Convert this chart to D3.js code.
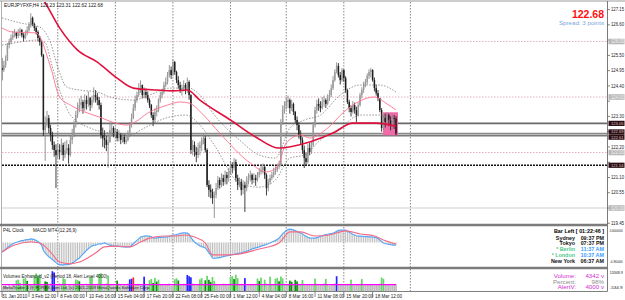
<!DOCTYPE html>
<html><head><meta charset="utf-8">
<script src="https://cdn.jsdelivr.net/npm/d3@7"></script>
<style>body{margin:0;background:#fff;overflow:hidden}svg{display:block;font-family:"Liberation Sans",Arial,sans-serif}</style>
</head><body><svg id="c" width="625" height="300"></svg>
<script>
// ---------- DATA ----------
const headerText = "EURJPYFXF,H4  123.23 123.31 122.62 122.68";
const lastPrice = "122.68";
const spreadText = "Spread: 3 points";
const firstOpen = 125.05;
const closes = [
124.97,125.15,125.33,125.87,125.98,126.13,126.23,126.31,126.20,126.34,
126.41,126.23,126.13,126.31,126.41,126.59,126.85,126.63,126.49,126.34,
126.13,125.98,125.51,122.81,122.99,123.24,122.88,122.63,122.27,122.09,
121.91,122.09,122.02,122.27,121.91,122.09,122.16,121.91,122.45,122.63,
122.99,123.35,123.60,123.71,123.82,123.60,123.89,123.75,123.96,123.71,
123.89,124.07,124.00,123.89,123.71,122.63,122.52,122.45,122.27,122.38,
122.81,122.88,122.63,122.74,122.52,122.63,122.45,122.56,122.38,122.45,
122.63,122.99,123.24,123.60,123.89,124.07,124.25,124.43,124.07,124.18,
124.07,123.89,123.71,123.35,123.17,123.46,123.53,123.89,124.07,124.18,
124.43,124.54,124.79,124.97,124.79,125.26,124.90,124.61,124.43,124.25,
124.32,124.43,124.25,124.54,124.07,122.09,122.27,122.02,121.91,122.16,
122.27,122.45,122.52,122.09,120.83,120.65,120.58,120.36,120.47,120.72,
121.01,120.83,121.08,120.94,121.19,121.08,121.30,121.55,121.44,121.66,
121.08,120.83,120.94,120.65,120.83,120.72,121.01,121.08,121.19,121.01,
121.08,121.01,121.19,121.30,121.37,121.48,121.19,120.72,120.94,121.08,
121.19,121.30,121.37,121.48,121.55,123.10,123.53,123.68,123.82,123.89,
123.60,123.75,123.46,123.17,122.99,122.63,122.45,122.09,121.80,121.66,
122.16,122.02,122.27,122.99,123.53,123.75,123.68,123.60,123.82,123.89,
123.75,123.96,124.07,124.32,124.61,124.90,125.12,124.79,124.61,124.97,
124.68,124.25,123.82,123.60,123.46,123.71,123.53,123.35,123.71,124.07,
124.25,124.43,124.54,124.76,124.90,124.97,124.61,124.32,124.14,123.96,
123.53,122.88,123.24,123.10,123.35,123.17,122.99,123.24,123.23,122.68];
const highs = [
125.40,125.30,125.50,125.95,126.10,126.25,126.38,126.45,126.35,126.45,
126.50,126.45,126.30,126.40,126.55,126.70,127.02,126.90,126.68,126.55,
126.40,126.20,126.05,125.55,123.30,123.50,123.35,123.00,122.75,122.40,
122.30,122.35,122.30,122.50,122.35,122.40,122.45,122.30,122.60,122.85,
123.15,123.50,123.80,123.95,124.05,123.90,124.10,124.05,124.20,124.00,
124.05,124.35,124.25,124.15,124.00,123.80,122.90,122.80,122.60,122.65,
123.05,123.10,122.95,122.90,122.85,122.80,122.70,122.70,122.65,122.60,
122.80,123.10,123.40,123.75,124.05,124.20,124.50,124.60,124.45,124.35,
124.30,124.20,123.95,123.75,123.45,123.60,123.70,123.95,124.20,124.30,
124.55,124.70,124.90,125.15,125.10,125.35,125.30,124.95,124.75,124.55,
124.45,124.60,124.50,124.70,124.60,124.10,122.45,122.40,122.20,122.35,
122.40,122.55,122.70,122.60,122.15,121.00,120.85,120.70,120.60,120.90,
121.15,121.10,121.25,121.20,121.35,121.30,121.45,121.70,121.65,121.80,
121.75,121.20,121.10,121.05,121.00,120.95,121.15,121.25,121.35,121.25,
121.25,121.20,121.30,121.45,121.55,121.60,121.55,121.25,121.05,121.20,
121.30,121.45,121.50,121.60,121.70,123.20,123.70,123.85,124.00,124.05,
123.95,123.90,123.80,123.50,123.30,123.10,122.80,122.55,122.25,122.00,
122.30,122.35,122.40,123.10,123.65,123.90,123.95,123.85,124.00,124.05,
123.95,124.10,124.25,124.45,124.75,125.00,125.25,125.22,124.90,125.05,
125.00,124.75,124.30,123.90,123.70,123.85,123.80,123.65,123.80,124.15,
124.35,124.55,124.65,124.85,125.00,125.05,125.00,124.70,124.45,124.25,
123.95,123.60,123.35,123.40,123.45,123.40,123.30,123.40,123.35,123.31];
const lows = [
124.60,124.90,125.05,125.30,125.75,125.90,126.05,126.15,126.10,126.12,
126.20,126.15,126.00,126.08,126.22,126.35,126.50,126.55,126.38,126.25,
126.00,125.85,125.45,122.60,121.70,122.90,122.70,122.40,122.10,121.85,
120.72,121.80,121.75,121.90,121.70,121.80,121.95,121.60,121.85,122.30,
122.55,122.90,123.25,123.45,123.55,123.40,123.50,123.55,123.65,123.50,
123.60,123.80,123.80,123.70,123.55,122.50,122.20,122.15,122.05,121.45,
122.35,122.65,122.55,122.50,122.40,122.40,122.30,122.35,122.30,122.30,
122.40,122.55,122.90,123.20,123.50,123.80,124.00,124.15,123.95,123.95,
123.95,123.80,123.60,123.25,122.95,123.05,123.30,123.45,123.80,123.95,
124.10,124.35,124.45,124.70,124.65,124.75,124.80,124.50,124.30,124.15,
124.05,124.20,124.10,124.15,123.90,121.95,121.90,121.85,121.65,121.80,
121.90,122.05,122.30,122.00,120.75,120.40,120.35,120.15,119.64,120.35,
120.65,120.70,120.75,120.80,120.85,120.85,120.95,121.20,121.25,121.35,
120.95,120.65,120.75,120.45,120.50,119.86,120.60,120.85,120.95,120.85,
120.90,120.80,120.95,121.10,121.20,121.25,121.05,120.45,120.60,120.85,
121.00,121.10,121.20,121.30,121.40,121.50,123.00,123.40,123.55,123.60,
123.40,123.50,123.35,123.05,122.80,122.50,122.30,121.95,121.44,121.55,
121.60,121.90,121.95,122.20,122.90,123.40,123.50,123.45,123.55,123.65,
123.60,123.70,123.85,124.00,124.25,124.55,124.85,124.70,124.45,124.55,
124.55,124.15,123.75,123.45,123.30,123.40,123.40,123.10,123.30,123.65,
123.95,124.15,124.35,124.45,124.65,124.70,124.55,124.20,124.05,123.85,
123.45,122.75,122.80,122.90,123.00,122.95,122.80,122.85,122.85,122.62];

// moving averages: [barIndex, price]
const maSlow = [[21,127.68],[23,127.50],[32,126.49],[42,125.69],[53,125.26],[64,124.68],[73,124.32],[86,124.25],[95,124.22],[103,124.25],[110,123.89],[127,123.17],[141,122.56],[154,122.16],[171,122.38],[184,122.70],[195,123.06],[208,123.06],[219,122.95]];
const maFast = [[0,126.49],[6,126.34],[19,126.31],[27,125.08],[32,124.00],[38,123.71],[46,123.46],[54,123.28],[63,123.06],[69,122.99],[74,123.10],[81,123.42],[92,123.71],[99,123.82],[104,123.78],[112,123.35],[121,122.70],[138,121.62],[147,121.30],[153,121.48],[158,122.34],[166,122.63],[171,122.52],[181,122.88],[190,123.46],[199,123.86],[207,124.00],[214,123.75],[219,123.53]];
const bandUp = [[0,126.85],[10,126.67],[21,126.52],[27,125.95],[31,125.08],[36,124.36],[43,124.25],[53,124.18],[60,124.00],[73,123.89],[82,124.07],[93,124.32],[104,124.32],[110,124.07],[118,123.35],[132,122.45],[143,121.91],[152,121.80],[160,122.88],[168,123.17],[177,123.35],[188,124.07],[199,124.43],[210,124.43],[219,124.18]];
const bandLo = [[0,125.87],[10,125.98],[19,126.05],[24,125.95],[28,125.08],[33,124.07],[38,123.35],[49,122.88],[60,122.70],[71,122.63],[79,122.88],[91,123.24],[102,123.35],[110,122.99],[118,122.27],[132,120.90],[143,120.75],[152,121.01],[160,121.80],[168,121.91],[177,122.45],[188,122.88],[199,123.35],[210,123.35],[219,122.99]];

const hLevels = [123.05, 122.69, 122.61, 121.54];
const hLevelLabels = ["123.05","122.69","122.61","121.54"];
const gridLevels = [126, 124, 122];
const gridLevelLabels = ["126.00","124.00","122.00"];
const baseLevel = 120;
const baseLevelLabel = "120.00";
const pinkBox = {from: 211.8, to: 220.1, hi: 123.45, lo: 122.62};

const priceTicks = [127.15,126.60,126.05,125.50,124.95,124.40,123.85,123.30,122.75,122.20,121.65,121.10,120.55,120.00,119.45];

const timeLabels = ["31 Jan 2010","3 Feb 12:00","8 Feb 00:00","10 Feb 16:00","15 Feb 04:00","17 Feb 20:00","22 Feb 08:00","25 Feb 00:00","1 Mar 12:00","4 Mar 04:00","8 Mar 16:00","11 Mar 08:00","15 Mar 20:00","18 Mar 12:00"];
const timeIdx = [0,15,31,47,63,79,95,111,127,143,158,174,190,206];
const gridIdx = [31,63,95,127,158,190,227];

// MACD (per bar main line / histogram) and signal [barIndex, value]
const macdMain = [
-0.37,-0.32,-0.27,-0.20,-0.15,-0.10,-0.06,-0.02,0.01,0.03,
0.05,0.07,0.08,0.10,0.11,0.12,0.14,0.13,0.11,0.08,
0.04,-0.02,-0.10,-0.30,-0.40,-0.48,-0.55,-0.60,-0.66,-0.72,
-0.78,-0.83,-0.87,-0.86,-0.88,-0.86,-0.85,-0.86,-0.83,-0.80,
-0.76,-0.70,-0.65,-0.60,-0.52,-0.45,-0.38,-0.30,-0.24,-0.18,
-0.14,-0.11,-0.10,-0.08,-0.05,-0.06,-0.04,-0.02,-0.05,-0.08,
-0.10,-0.12,-0.13,-0.14,-0.15,-0.15,-0.16,-0.17,-0.17,-0.18,
-0.17,-0.17,-0.12,-0.05,0.02,0.08,0.14,0.21,0.23,0.25,
0.26,0.25,0.25,0.22,0.18,0.17,0.18,0.19,0.20,0.21,
0.21,0.21,0.22,0.24,0.26,0.29,0.29,0.31,0.33,0.35,
0.36,0.37,0.37,0.36,0.32,0.20,0.10,0.02,-0.04,-0.09,
-0.13,-0.16,-0.18,-0.21,-0.30,-0.40,-0.48,-0.60,-0.62,-0.61,
-0.60,-0.59,-0.57,-0.55,-0.53,-0.52,-0.50,-0.48,-0.47,-0.46,
-0.44,-0.43,-0.41,-0.40,-0.38,-0.36,-0.34,-0.31,-0.28,-0.25,
-0.23,-0.21,-0.19,-0.17,-0.14,-0.12,-0.10,-0.08,-0.05,-0.02,
0.02,0.05,0.08,0.12,0.17,0.26,0.34,0.40,0.46,0.50,
0.52,0.51,0.49,0.46,0.42,0.39,0.37,0.33,0.28,0.24,
0.20,0.18,0.17,0.17,0.17,0.19,0.21,0.23,0.26,0.29,
0.31,0.32,0.33,0.34,0.36,0.39,0.43,0.47,0.48,0.48,
0.48,0.48,0.44,0.40,0.36,0.32,0.29,0.26,0.25,0.25,
0.24,0.24,0.23,0.23,0.22,0.22,0.21,0.21,0.19,0.15,
0.10,0.04,-0.02,-0.04,-0.06,-0.07,-0.08,-0.10,-0.10,-0.10];
const macdSignal = [[0,-0.37],[7,-0.10],[16,0.02],[21,-0.02],[27,-0.37],[32,-0.76],[38,-0.83],[43,-0.76],[52,-0.41],[57,-0.17],[63,-0.14],[71,-0.17],[77,0.02],[82,0.17],[91,0.25],[96,0.25],[102,0.29],[107,0.21],[113,-0.02],[117,-0.48],[127,-0.48],[143,-0.25],[154,-0.02],[160,0.41],[166,0.41],[174,0.25],[182,0.29],[191,0.45],[199,0.33],[207,0.25],[212,0.10],[217,-0.02],[219,-0.06]];
const macdLabel = "MACD MT4 (12,26,9)";
const clockLabel = "P4L Clock";

// Volumes and their colour class (0 grey, 1 light green, 2 dark green, 3 blue, 4 red)
const volumes = [
2800,3200,3500,2600,3900,3100,4200,3600,6800,7200,
5200,3300,7900,8200,6400,3800,4100,3500,9800,11200,
8600,10500,3900,4300,6100,5800,3600,4800,12600,11800,
4400,3700,4900,3800,8100,7600,3200,4500,3900,3400,
4100,7300,6900,6200,3600,4200,3300,4700,3900,8800,
9200,4300,3800,4600,10800,11300,3700,4200,4900,9900,
4000,3500,4400,3200,6600,4700,3900,3100,4300,3600,
4800,7400,7800,8600,4200,3900,4600,3800,4300,9100,
4500,3700,6900,7700,5100,8300,6000,7200,3900,4200,
3600,4400,3800,4700,3300,4000,7500,8100,6700,4100,
3900,4600,4300,10200,9400,8700,4800,4100,3700,4400,
7400,8200,4500,6800,9600,7100,5800,8900,6300,4200,
3800,4300,3600,4700,3900,4100,3500,8800,9400,7600,
10300,8100,4600,3900,4400,8200,4000,3700,4500,3800,
4200,3600,7900,6400,8500,4300,7200,4800,3900,9100,
4400,3700,7800,8300,6200,9200,8000,4600,4100,3800,
6600,5900,4300,7100,6100,4500,3900,7000,4400,3600,
4000,4500,3800,4200,7900,4600,3700,4300,3900,4800,
7700,4100,3600,4400,3800,4700,9400,4300,3900,4200,
3700,4500,4100,3800,7200,4400,3600,4200,3900,4600,
7600,4200,3700,4400,3900,4500,4100,3600,4300,3800,
4700,8600,7800,4200,3900,4400,3600,4000,4500,4342];
const volClass = [
0,0,0,0,0,0,0,0,1,1, 1,0,1,1,2,0,0,0,1,1, 2,1,0,0,2,2,0,0,3,3, 0,0,0,0,1,1,0,0,0,0,
0,1,1,2,0,0,0,0,0,1, 1,0,0,0,1,1,0,0,0,1, 0,0,0,0,2,0,0,0,0,0, 0,3,3,4,0,0,0,0,0,3,
0,0,1,1,2,1,2,1,0,0, 0,0,0,0,0,0,1,1,2,0, 0,0,0,3,3,3,0,0,0,0, 1,1,0,2,1,2,2,1,1,0,
0,0,0,0,0,0,0,1,1,2, 1,1,0,0,0,3,0,0,0,0, 0,0,1,2,1,0,1,0,0,1, 0,0,1,1,2,1,1,0,0,0,
2,2,0,2,2,0,0,1,0,0, 0,0,0,0,1,0,0,0,0,0, 1,0,0,0,0,0,3,0,0,0, 0,0,0,0,1,0,0,0,0,0,
1,0,0,0,0,0,0,0,0,0, 0,1,1,0,0,0,0,0,0,0];
const volMax = 13348.9;
const volAlert = 4000;
const volLabel = "Volumes Enhanced_v2 (Period 18, Alert Level 4000)";
const copyLabel = "MetaTrader 4 @ FOREX.com Ltd, (c) 2001-2009 MetaQuotes Software Corp.";
const clockRows = [["Sydney","09:37 PM"],["Tokyo","07:37 PM"],["* Berlin","11:37 AM"],["* London","10:37 AM"],["New York","06:37 AM"]];
const barLeft = "Bar Left [ 01:22:46 ]";
const volInfo = [["Volume:","4342 v"],["Percent:","98%"],["AlertV:","4000 v"]];
const subAxisLabels = ["0.600000","-0.90000","13348.9","-534.9"];

// ---------- DRAW ----------
const svg = d3.select("#c");
const W = 625, AX = 607.5;
const x = d3.scaleLinear().domain([0, 219]).range([2, 396]);
const yP = d3.scaleLinear().domain([120, 126]).range([208, 41.5]);
const yM = d3.scaleLinear().domain([-0.95, 0.6]).range([267, 227]);
const yV = d3.scaleLinear().domain([0, volMax]).range([291, 270]);

svg.append("rect").attr("width", W).attr("height", 300).attr("fill", "#fff");
const defs = svg.append("defs");
defs.append("clipPath").attr("id", "cp").append("rect").attr("x", 2).attr("y", 2).attr("width", AX - 2).attr("height", 222);

// vertical grid
svg.append("g").selectAll("line").data(gridIdx).join("line")
  .attr("x1", d => x(d)).attr("x2", d => x(d)).attr("y1", 2).attr("y2", 291)
  .attr("stroke", "#6a6a6a").attr("stroke-width", 0.8).attr("stroke-dasharray", "1.5,1.5");

const main = svg.append("g").attr("clip-path", "url(#cp)");
main.selectAll("line.gl").data(gridLevels).join("line").attr("class", "gl")
  .attr("x1", 2).attr("x2", AX).attr("y1", d => yP(d)).attr("y2", d => yP(d))
  .attr("stroke", "#e3a6b4").attr("stroke-width", 0.9).attr("stroke-dasharray", "1.5,1.5");
main.append("line").attr("x1", 2).attr("x2", AX).attr("y1", yP(baseLevel)).attr("y2", yP(baseLevel))
  .attr("stroke", "#cfcfcf").attr("stroke-width", 1);
const hStyle = [{c:"#6a6a6a",w:1.8,d:null},{c:"#8a8a8a",w:1.4,d:null},{c:"#7a7a7a",w:2,d:null},{c:"#111",w:1.3,d:"2,1"}];
main.selectAll("line.hl").data(hLevels).join("line").attr("class", "hl")
  .attr("x1", 2).attr("x2", AX).attr("y1", d => yP(d)).attr("y2", d => yP(d))
  .attr("stroke", (d, i) => hStyle[i].c).attr("stroke-width", (d, i) => hStyle[i].w)
  .attr("stroke-dasharray", (d, i) => hStyle[i].d);
main.append("rect").attr("x", x(pinkBox.from)).attr("width", x(pinkBox.to) - x(pinkBox.from))
  .attr("y", yP(pinkBox.hi)).attr("height", yP(pinkBox.lo) - yP(pinkBox.hi))
  .attr("fill", "#f06aa8");

// candles
const bars = closes.map((c, i) => {
  const o = i ? closes[i - 1] : firstOpen;
  return {i, o, c, h: Math.max(highs[i], o, c), l: Math.min(lows[i], o, c)};
});
main.selectAll("line.wk").data(bars).join("line").attr("class", "wk")
  .attr("x1", d => x(d.i)).attr("x2", d => x(d.i))
  .attr("y1", d => yP(d.h)).attr("y2", d => yP(d.l))
  .attr("stroke", d => d.c >= d.o ? "#8a8a8a" : "#2a2a2a").attr("stroke-width", 0.9);
main.selectAll("rect.bd").data(bars).join("rect").attr("class", "bd")
  .attr("x", d => x(d.i) - 0.75).attr("width", 1.5)
  .attr("y", d => yP(Math.max(d.o, d.c)))
  .attr("height", d => Math.max(0.8, Math.abs(yP(d.o) - yP(d.c))))
  .attr("fill", d => d.c >= d.o ? "#9a9a9a" : "#1e1e1e");

// MAs
const lineP = d3.line().x(d => x(d[0])).y(d => yP(d[1])).curve(d3.curveMonotoneX);
main.append("path").attr("d", lineP(bandUp)).attr("fill", "none").attr("stroke", "#7c7c7c").attr("stroke-width", 0.8).attr("stroke-dasharray", "1.5,1.5");
main.append("path").attr("d", lineP(bandLo)).attr("fill", "none").attr("stroke", "#7c7c7c").attr("stroke-width", 0.8).attr("stroke-dasharray", "1.5,1.5");
main.append("path").attr("d", lineP(maFast)).attr("fill", "none").attr("stroke", "#ff6f8c").attr("stroke-width", 0.9);
main.append("path").attr("d", lineP(maSlow)).attr("fill", "none").attr("stroke", "#e0103c").attr("stroke-width", 1.6);

// MACD pane
const mg = svg.append("g");
mg.selectAll("line").data(macdMain).join("line")
  .attr("x1", (d, i) => x(i)).attr("x2", (d, i) => x(i))
  .attr("y1", yM(0)).attr("y2", d => yM(d))
  .attr("stroke", "#b4b4b4").attr("stroke-width", 0.9);
mg.append("path").attr("d", d3.line().x((d, i) => x(i)).y(d => yM(d))(macdMain))
  .attr("fill", "none").attr("stroke", "#5aa8f5").attr("stroke-width", 1.2);
mg.append("path").attr("d", d3.line().x(d => x(d[0])).y(d => yM(d[1])).curve(d3.curveMonotoneX)(macdSignal))
  .attr("fill", "none").attr("stroke", "#f26a86").attr("stroke-width", 1.1);

// Volume pane
const volColors = ["#bebebe", "#66d466", "#0c8c0c", "#2525ff", "#ff2525"];
svg.append("g").selectAll("rect").data(volumes).join("rect")
  .attr("x", (d, i) => x(i) - 0.85).attr("width", 1.7)
  .attr("y", d => yV(d)).attr("height", d => yV(0) - yV(d))
  .attr("fill", (d, i) => volColors[volClass[i]]);
svg.append("line").attr("x1", x(0)).attr("x2", x(219)).attr("y1", yV(volAlert)).attr("y2", yV(volAlert))
  .attr("stroke", "#ff00ff").attr("stroke-width", 1.2);

// frames / separators
svg.append("line").attr("x1", 0).attr("x2", W).attr("y1", 1).attr("y2", 1).attr("stroke", "#9a9a9a");
svg.append("line").attr("x1", 1.5).attr("x2", 1.5).attr("y1", 1).attr("y2", 291.5).attr("stroke", "#b0b0b0");
svg.append("line").attr("x1", 0).attr("x2", AX).attr("y1", 225).attr("y2", 225).attr("stroke", "#7c7c7c").attr("stroke-width", 2.4);
svg.append("line").attr("x1", 0).attr("x2", AX).attr("y1", 268).attr("y2", 268).attr("stroke", "#7c7c7c").attr("stroke-width", 2.4);
svg.append("line").attr("x1", 0).attr("x2", AX).attr("y1", 291.5).attr("y2", 291.5).attr("stroke", "#808080").attr("stroke-width", 1);
svg.append("line").attr("x1", AX).attr("x2", AX).attr("y1", 1).attr("y2", 291.5).attr("stroke", "#7a7a7a").attr("stroke-width", 1);

function T(px, py, s, o = {}) {
  const t = svg.append("text").attr("x", px).attr("y", py).text(s)
    .attr("font-size", o.fs || 4.6).attr("fill", o.c || "#000")
    .attr("font-weight", o.b ? "bold" : null)
    .attr("text-anchor", o.a || "start");
  if (o.len) t.attr("textLength", o.len).attr("lengthAdjust", "spacingAndGlyphs");
  return t;
}

// level label positions (the two close levels are nudged apart)
const levelY = hLevels.map(p => yP(p));
levelY[1] -= 1.4; levelY[2] += 1.6;
const boxYs = levelY.concat(gridLevels.concat([baseLevel]).map(p => yP(p)));

// price axis
priceTicks.forEach(p => {
  const yy = yP(p);
  svg.append("line").attr("x1", AX).attr("x2", AX + 2.5).attr("y1", yy).attr("y2", yy).attr("stroke", "#555").attr("stroke-width", 0.7);
  const clash = boxYs.some(b => Math.abs(b - yy) < 5.5);
  if (!clash) T(AX + 3.5, yy + 1.6, p.toFixed(2), {c: "#222", len: 13});
});
gridLevels.concat([baseLevel]).forEach((p, i) => {
  svg.append("rect").attr("x", AX + 1).attr("y", yP(p) - 2.8).attr("width", 16).attr("height", 5.6).attr("fill", "#b9b9b9");
  T(AX + 3.5, yP(p) + 1.6, (gridLevelLabels.concat([baseLevelLabel]))[i], {c: "#f4f4f4", len: 13});
});
hLevels.forEach((p, i) => {
  svg.append("rect").attr("x", AX + 1).attr("y", levelY[i] - 2.6).attr("width", 16).attr("height", 5.2).attr("fill", "#2a0c12");
  T(AX + 3.5, levelY[i] + 1.5, hLevelLabels[i], {c: "#d8c8c8", fs: 4.2, len: 12.5});
});
// sub-pane axis labels (kept inside their panes)
const subY = [232, 263, 274, 289.3];
subAxisLabels.forEach((s, k) => {
  T(AX + 2.2, subY[k], s, {c: "#222", fs: 3.9, len: 13});
});

// time axis
timeIdx.forEach((ti, k) => {
  svg.append("line").attr("x1", x(ti)).attr("x2", x(ti)).attr("y1", 291.5).attr("y2", 297).attr("stroke", "#555").attr("stroke-width", 0.7);
  T(x(ti) + (k === 0 ? 0 : 2.5), 298, timeLabels[k], {c: "#222"});
});

// header texts
T(4, 7, headerText, {c: "#111", fs: 4.8});
T(604, 17.5, lastPrice, {c: "#ff1010", fs: 10.5, b: true, a: "end"});
T(604, 24.5, spreadText, {c: "#7aa6da", fs: 6.2, a: "end"});

// MACD pane texts
T(3, 231.5, clockLabel, {c: "#222", fs: 4.6});
T(33, 231.5, macdLabel, {c: "#222", fs: 4.6});
T(604, 232.5, barLeft, {fs: 5.4, b: true, a: "end"});
const rowY = [239.5, 245.2, 251.2, 257.2, 263.3];
clockRows.forEach((r, k) => {
  const isEU = k === 2 || k === 3;
  T(575, rowY[k], r[0], {fs: 5.4, b: true, a: "end", c: isEU ? "#4cc98a" : "#111"});
  T(604, rowY[k], r[1], {fs: 5.4, b: true, a: "end", c: isEU ? "#3a9cff" : "#111"});
});

// Volume pane texts
T(3, 277.5, volLabel, {c: "#222", fs: 4.5});
T(3, 288.5, copyLabel, {c: "#222", fs: 4.3});
const viY = [277.6, 283.6, 289.4];
const viC = ["#d42ed4", "#8c8c8c", "#d42ed4"];
volInfo.forEach((r, k) => {
  T(576, viY[k], r[0], {fs: 6.2, c: viC[k], a: "end"});
  T(604, viY[k], r[1], {fs: 6.2, c: viC[k], a: "end"});
});
</script></body></html>
